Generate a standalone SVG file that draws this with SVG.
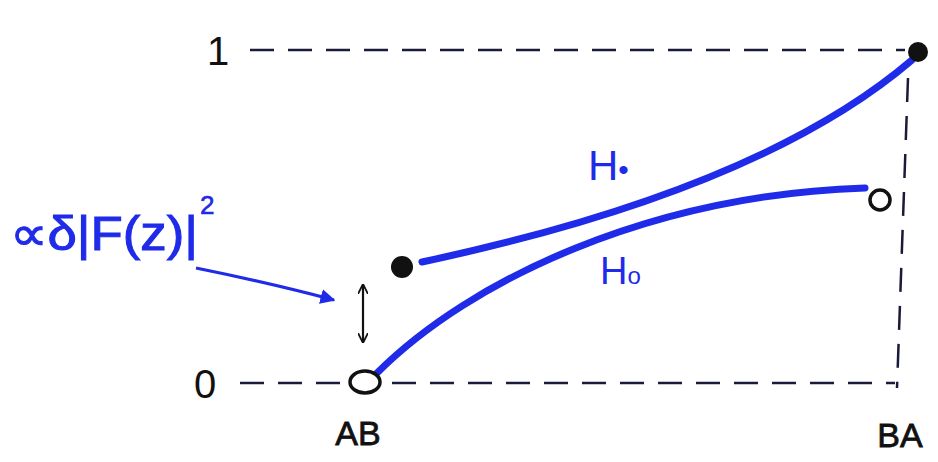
<svg xmlns="http://www.w3.org/2000/svg" width="938" height="462" viewBox="0 0 938 462">
<defs>
<style>
.dash{stroke:#1a1a3a;stroke-width:2.5;stroke-dasharray:24 14;fill:none}
.blue{stroke:#1f2be8;stroke-width:7;fill:none;stroke-linecap:round}
.lbl{font-family:"Liberation Sans",Arial,sans-serif;fill:#111}
.blbl{font-family:"Liberation Sans",Arial,sans-serif;fill:#1f2be8}
</style>
<marker id="bh" viewBox="0 0 10 10" refX="9" refY="5" markerWidth="5" markerHeight="5" orient="auto"><path d="M0,0 L10,5 L0,10 z" fill="#1f2be8"/></marker>
<marker id="kh" viewBox="0 0 10 10" refX="9" refY="5" markerWidth="10" markerHeight="10" orient="auto-start-reverse" markerUnits="userSpaceOnUse"><path d="M0,0 L10,5 L0,10" fill="none" stroke="#111" stroke-width="1.8"/></marker>
</defs>
<rect width="938" height="462" fill="#fff"/>
<g id="connectors">
<path class="dash" d="M250,50 L905,50"/>
<path class="dash" d="M240,383 L895,383"/>
<path class="dash" d="M908,78 L897,388"/>
<path class="blue" d="M422,262 Q760,190 912,60"/>
<path class="blue" d="M377,373 C470,280 650,195 865,188"/>
<path d="M363,285 L363,342" stroke="#111" stroke-width="2.2" fill="none" marker-start="url(#kh)" marker-end="url(#kh)"/>
<path d="M196,268 Q270,283 334,300" stroke="#1f2be8" stroke-width="3" fill="none" marker-end="url(#bh)"/>
</g>
<g id="node-one"><text class="lbl" x="218" y="65" font-size="40" text-anchor="middle">1</text></g>
<g id="node-zero"><text class="lbl" x="205" y="398" font-size="40" text-anchor="middle">0</text></g>
<g id="node-AB"><text class="lbl" x="358" y="445" font-size="34" text-anchor="middle" stroke="#111" stroke-width="0.8">AB</text></g>
<g id="node-BA"><text class="lbl" x="900" y="447" font-size="34" text-anchor="middle" stroke="#111" stroke-width="0.8">BA</text></g>
<g id="node-end-filled"><circle cx="918" cy="52" r="10" fill="#111"/></g>
<g id="node-end-open"><circle cx="880" cy="200" r="10" fill="#fff" stroke="#111" stroke-width="3.5"/></g>
<g id="node-start-filled"><circle cx="402" cy="267" r="11" fill="#111"/></g>
<g id="node-start-open"><ellipse cx="365" cy="382" rx="15" ry="11" fill="#fff" stroke="#111" stroke-width="3.5"/></g>
<g id="label-H-filled"><text class="blbl" x="588" y="180" font-size="42">H<tspan font-size="30">•</tspan></text></g>
<g id="label-H-open"><text class="blbl" x="600" y="284" font-size="38">H<tspan font-size="24">o</tspan></text></g>
<g id="label-delta"><text class="blbl" x="10" y="250" font-size="48" textLength="188" lengthAdjust="spacingAndGlyphs" stroke="#1f2be8" stroke-width="1">∝δ|F(z)|</text><text class="blbl" x="200" y="214" font-size="26" stroke="#1f2be8" stroke-width="0.6">2</text></g>
</svg>
